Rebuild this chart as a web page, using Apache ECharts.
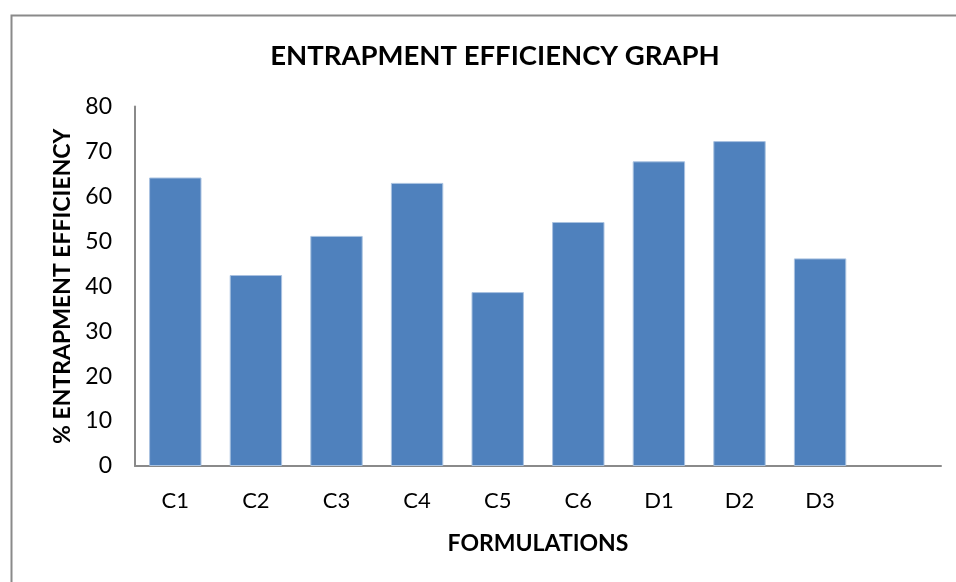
<!DOCTYPE html>
<html>
<head>
<meta charset="utf-8">
<script src="https://cdn.jsdelivr.net/npm/echarts@6/dist/echarts.min.js"></script>
<style>html,body{margin:0;padding:0;background:#fff}#c{width:956px;height:582px}</style>
</head>
<body>
<div id="c"></div>
<script>
var categories = ['C1','C2','C3','C4','C5','C6','D1','D2','D3',''];
var efficiency = [64.2, 42.5, 51.2, 63.0, 38.7, 54.3, 67.8, 72.3, 46.2, null];
var yTicks = {min: 0, max: 80, interval: 10};

var chart = echarts.init(document.getElementById('c'), null, {renderer: 'canvas'});
var font = 'Lato, "Open Sans", sans-serif';
chart.setOption({
  animation: false,
  backgroundColor: '#fff',
  graphic: [{
    type: 'rect', left: 9, top: 13,
    shape: {width: 1000, height: 700},
    style: {fill: 'none', stroke: '#8a8a8a', lineWidth: 2}, silent: true
  }],
  title: {
    text: 'ENTRAPMENT EFFICIENCY GRAPH',
    left: 490, top: 37, textAlign: 'center',
    textStyle: {fontFamily: font, fontWeight: 'bold', fontSize: 27.5, color: '#000'}
  },
  grid: {left: 135, right: 15, top: 106.5, bottom: 116, containLabel: false},
  xAxis: {
    type: 'category', data: categories,
    name: 'FORMULATIONS', nameLocation: 'middle', nameGap: 66,
    nameTextStyle: {fontFamily: font, fontWeight: 'bold', fontSize: 23, color: '#000'},
    axisLine: {lineStyle: {color: '#8a8a8a', width: 2}},
    axisTick: {show: false},
    axisLabel: {fontFamily: font, fontSize: 22, color: '#000', margin: 24},
    splitLine: {show: false}
  },
  yAxis: {
    type: 'value', min: yTicks.min, max: yTicks.max, interval: yTicks.interval,
    name: '% ENTRAPMENT EFFICIENCY', nameLocation: 'middle', nameGap: 60,
    nameTextStyle: {fontFamily: font, fontWeight: 'bold', fontSize: 23, color: '#000'},
    axisLine: {show: true, lineStyle: {color: '#8a8a8a', width: 2}},
    axisTick: {show: false},
    axisLabel: {fontFamily: font, fontSize: 23, color: '#000', margin: 23},
    splitLine: {show: false}
  },
  series: [{
    type: 'bar', data: efficiency,
    barCategoryGap: '35%',
    itemStyle: {color: '#4f81bd', borderColor: '#a9c2e0', borderWidth: 1}
  }]
});
</script>
</body>
</html>
